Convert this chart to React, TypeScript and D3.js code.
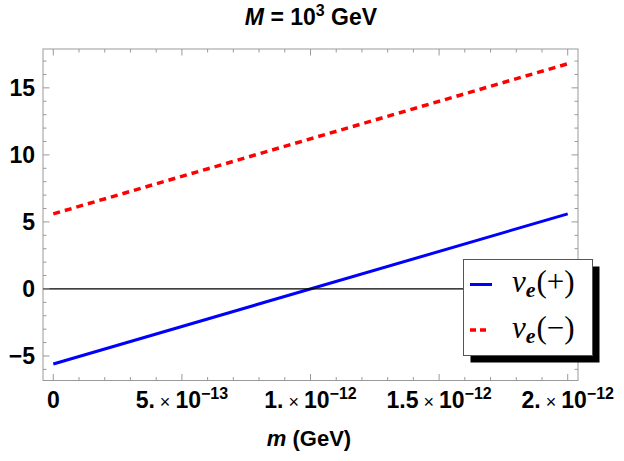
import React from "react";
import * as d3 from "d3";

// Sample points along m (GeV) and the two branches
const mValues = [0, 2e-12];
const nuPlus = [-5.6, 5.6];
const nuMinus = [5.6, 16.8];

const xMajorTicks = [0, 5e-13, 1e-12, 1.5e-12, 2e-12];
const xTickMantissa = ["0", "5.", "1.", "1.5", "2."];
const xTickExponent = ["", "−13", "−12", "−12", "−12"];
const yMajorTicks = [-5, 0, 5, 10, 15];

const W = 624;
const H = 461;
const left = 43;
const right = 578;
const top = 49;
const bottom = 380.5;

const sans = "'Liberation Sans', Arial, sans-serif";
const serif = "'Liberation Serif', 'Times New Roman', serif";

export default function App() {
  const x = d3.scaleLinear().domain([-0.04e-12, 2.04e-12]).range([left, right]);
  const y = d3.scaleLinear().domain([-6.83, 17.9]).range([bottom, top]);

  const xMinor = d3.range(0, 21).map((i) => i * 1e-13);
  const yMinor = d3.range(-6, 18).filter((v) => v % 5 !== 0);

  const line = d3
    .line<number>()
    .x((_, i) => x(mValues[i]))
    .y((d) => y(d));

  const frameColor = "#9a9a9a";
  const majorLen = 6.5;
  const minorLen = 3.5;

  return (
    <svg
      width={W}
      height={H}
      style={{ position: "absolute", left: 0, top: 0, background: "#fff" }}
    >
      {/* title */}
      <text
        x={311}
        y={25}
        textAnchor="middle"
        fontFamily={sans}
        fontWeight="bold"
        fontSize={23}
        fill="#000"
      >
        <tspan fontStyle="italic">M</tspan>
        <tspan> = 10</tspan>
        <tspan fontSize={16} dy={-9}>3</tspan>
        <tspan dy={9}> GeV</tspan>
      </text>

      {/* data */}
      <path d={line(nuPlus) || ""} fill="none" stroke="#0000ff" strokeWidth={3} />
      <path
        d={line(nuMinus) || ""}
        fill="none"
        stroke="#ff0000"
        strokeWidth={3.5}
        strokeDasharray="7,5"
      />

      {/* frame */}
      <rect
        x={left}
        y={top}
        width={right - left}
        height={bottom - top}
        fill="none"
        stroke={frameColor}
        strokeWidth={1}
      />

      {/* zero line */}
      <line x1={left} x2={right} y1={y(0)} y2={y(0)} stroke="#000" strokeWidth={1.2} />

      {/* x ticks (bottom and top) */}
      {xMinor.map((v, i) => {
        const len = i % 5 === 0 ? majorLen : minorLen;
        const px = x(v);
        return (
          <g key={"xt" + i} stroke={frameColor} strokeWidth={1}>
            <line x1={px} x2={px} y1={bottom} y2={bottom - len} />
            <line x1={px} x2={px} y1={top} y2={top + len} />
          </g>
        );
      })}
      {/* y ticks (left and right) */}
      {yMajorTicks.map((v) => (
        <g key={"ymj" + v} stroke={frameColor} strokeWidth={1}>
          <line x1={left} x2={left + majorLen} y1={y(v)} y2={y(v)} />
          <line x1={right} x2={right - majorLen} y1={y(v)} y2={y(v)} />
        </g>
      ))}
      {yMinor.map((v) => (
        <g key={"ymn" + v} stroke={frameColor} strokeWidth={1}>
          <line x1={left} x2={left + minorLen} y1={y(v)} y2={y(v)} />
          <line x1={right} x2={right - minorLen} y1={y(v)} y2={y(v)} />
        </g>
      ))}

      {/* y tick labels */}
      {yMajorTicks.map((v) => (
        <text
          key={"yl" + v}
          x={left - 8}
          y={y(v) + 8}
          textAnchor="end"
          fontFamily={sans}
          fontWeight="bold"
          fontSize={23}
          fill="#000"
        >
          {v < 0 ? "−" + Math.abs(v) : String(v)}
        </text>
      ))}

      {/* x tick labels */}
      {xMajorTicks.map((v, i) => (
        <text
          key={"xl" + i}
          x={x(v)}
          y={408}
          textAnchor="middle"
          fontFamily={sans}
          fontWeight="bold"
          fontSize={23}
          fill="#000"
        >
          {xTickExponent[i] === "" ? (
            xTickMantissa[i]
          ) : (
            <>
              <tspan>{xTickMantissa[i]}</tspan>
              <tspan fontSize={18} fontWeight="normal">{" × "}</tspan>
              <tspan>10</tspan>
              <tspan fontSize={16} dy={-9}>
                {xTickExponent[i]}
              </tspan>
            </>
          )}
        </text>
      ))}

      {/* x axis label */}
      <text
        x={309}
        y={446}
        textAnchor="middle"
        fontFamily={sans}
        fontWeight="bold"
        fontSize={22}
        fill="#000"
      >
        <tspan fontStyle="italic">m</tspan>
        <tspan> (GeV)</tspan>
      </text>

      {/* legend */}
      <g>
        <rect x={470.5} y={266.5} width={129} height={96} fill="#000" />
        <rect
          x={463.5}
          y={259.5}
          width={129}
          height={96}
          fill="#fff"
          stroke="#555"
          strokeWidth={1}
        />
        <line x1={470} x2={492} y1={284.5} y2={284.5} stroke="#0000ff" strokeWidth={3} />
        <line
          x1={470}
          x2={487}
          y1={330}
          y2={330}
          stroke="#ff0000"
          strokeWidth={3.5}
          strokeDasharray="6,4"
        />
        {[
          { sign: "+", yy: 292 },
          { sign: "−", yy: 337.5 },
        ].map((d) => (
          <text key={d.sign} x={512} y={d.yy} fontFamily={serif} fontSize={31} fill="#000">
            <tspan fontStyle="italic">ν</tspan>
            <tspan fontStyle="italic" fontWeight="bold" fontSize={22} dy={5}>
              e
            </tspan>
            <tspan dy={-5} dx={1}>
              (
            </tspan>
            <tspan>{d.sign}</tspan>
            <tspan>)</tspan>
          </text>
        ))}
      </g>
    </svg>
  );
}
